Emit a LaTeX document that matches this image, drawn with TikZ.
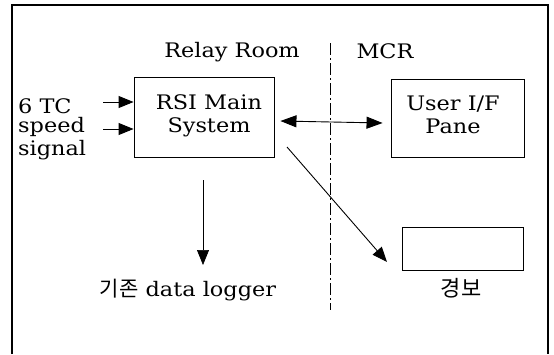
\documentclass[tikz,border=0pt]{standalone}
\usepackage{fontspec}
\setmainfont[FakeStretch=1.12]{DejaVu Serif}
\newfontfamily\krfont{Noto Sans CJK KR}
\usetikzlibrary{arrows.meta,calc}
\tikzset{
  label text/.style={font=\fontsize{20}{23}\selectfont, inner sep=0pt, align=center},
  unit box/.style={draw, line width=0.9pt, inner sep=0pt},
  arr/.style={line width=0.9pt, -{Triangle[length=15pt,width=12pt]}},
  biarr/.style={line width=0.9pt, {Triangle[length=16pt,width=12pt]}-{Triangle[length=16pt,width=12pt]}},
  divider/.style={line width=0.6pt, dash pattern=on 12pt off 3pt on 2pt off 3pt},
}
\begin{document}
\begin{tikzpicture}[x=1pt,y=-1pt]
  \useasboundingbox (0,0) rectangle (554,354);
  % outer frame (open at the bottom)
  \draw[line width=1.6pt] (12,354) -- (12,5) -- (548,5) -- (548,354);

  % room headings and divider
  \node[label text] (relay) at (232,52) {Relay Room};
  \node[label text] (mcr) at (385,51) {MCR};
  \coordinate (divtop) at (330,43);
  \coordinate (divbot) at (330,310);
  \draw[divider] (divtop) -- (divbot);

  % main system and panel
  \node[unit box, minimum width=140pt, minimum height=80pt] (rsi) at (204,117) {};
  \node[label text] (rsitxt) at (209,116) {RSI Main\\System};
  \node[unit box, minimum width=133pt, minimum height=78pt] (uif) at (457.5,118) {};
  \node[label text] (uiftxt) at (453,115) {User I/F\\Pane};

  % alarm box
  \node[unit box, minimum width=121pt, minimum height=43pt] (alarm) at (462.5,248.5) {};
  \node[label text, font=\krfont\fontsize{22}{24}\selectfont] (alarmtxt) at (461,288) {경보};

  % inputs
  \node[label text, anchor=west] (tc) at (18,106) {6 TC};
  \node[label text, anchor=west] (speed) at (18,127) {speed};
  \node[label text, anchor=west] (signal) at (18,150) {signal};
  \coordinate (tcfrom) at (103,102);
  \coordinate (speedfrom) at (103,129);
  \draw[arr] (tcfrom) -- (tcfrom -| rsi.west);
  \draw[arr] (speedfrom) -- (speedfrom -| rsi.west);

  % link between system and panel
  \draw[biarr] ($(rsi.east)+(6pt,-4pt)$) -- ($(uif.west)+(-8pt,-5pt)$);

  % data logger output
  \node[label text] (logger) at (188,290) {{\krfont\fontsize{21}{23}\selectfont 기존} data logger};
  \coordinate (logtop) at (203,180);
  \draw[arr, line width=0.7pt] (logtop) -- (logtop |- 0,265);

  % alarm output
  \coordinate (diagstart) at (287,147);
  \coordinate (diagend) at (387,262);
  \draw[arr] (diagstart) -- (diagend);
\end{tikzpicture}
\end{document}
